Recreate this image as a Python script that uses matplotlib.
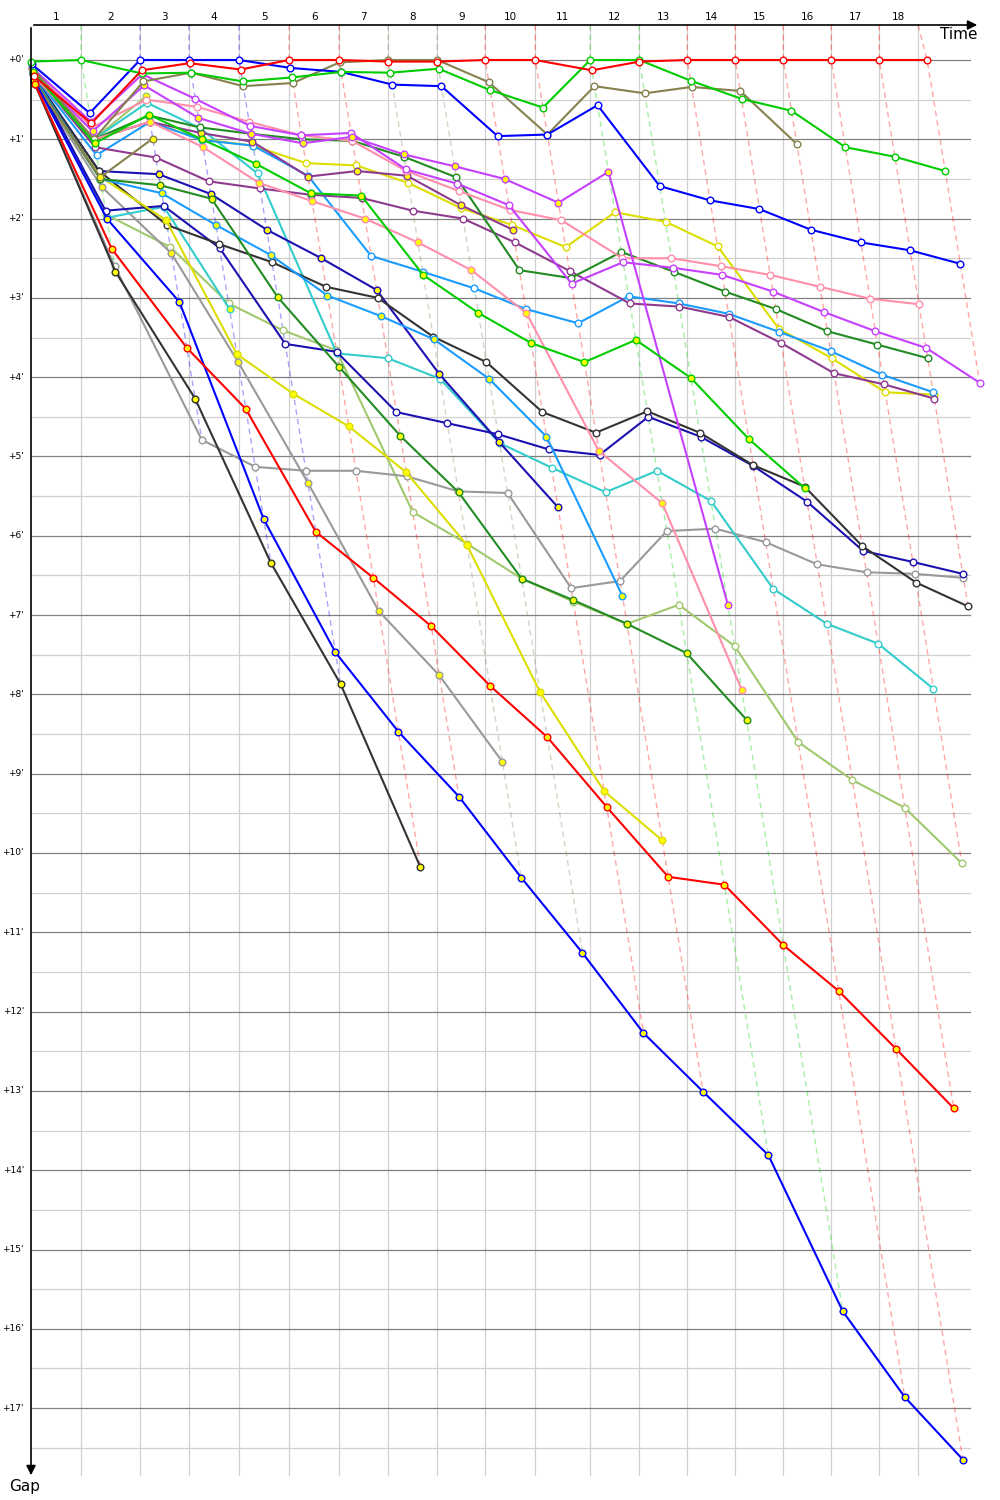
import matplotlib.pyplot as plt

# leader's cumulative race time at the end of each lap (minutes)
leader_time = [3.88, 8.45, 12.25, 16.13, 20.01, 23.89, 27.69, 31.49, 35.21, 39.09,
               43.35, 47.15, 50.87, 54.59, 58.31, 62.03, 65.75, 69.47]
# vertical grid marks, last one sits a bit before the leader's last lap
grid_time = leader_time[:-1] + [68.76]
lap_labels = [str(i) for i in range(1, 19)]
gap_ticks = list(range(0, 18))

# gap to leader (minutes) per lap, index 0 = start
red_1 = [0.20, 0.80, 0.13, 0.04, 0.12, 0, 0, 0.02, 0.02, 0, 0, 0.13, 0.02, 0, 0, 0, 0, 0, 0]
red_2 = [0.30, 2.38, 3.63, 4.40, 5.95, 6.53, 7.14, 7.89, 8.54, 9.42, 10.30, 10.40, 11.16, 11.74, 12.47, 13.22]
green_1 = [0.02, 0, 0.17, 0.16, 0.27, 0.22, 0.15, 0.16, 0.11, 0.38, 0.60, 0, 0, 0.26, 0.49, 0.64, 1.10, 1.22, 1.40]
green_2 = [0.15, 1.05, 0.69, 1.00, 1.31, 1.68, 1.71, 2.71, 3.19, 3.57, 3.81, 3.53, 4.01, 4.78, 5.40]
blue_1 = [0.05, 0.67, 0, 0, 0, 0.10, 0.15, 0.31, 0.33, 0.96, 0.94, 0.57, 1.59, 1.77, 1.88, 2.14, 2.30, 2.40, 2.57]
blue_2 = [0.25, 2.00, 3.05, 5.79, 7.47, 8.47, 9.29, 10.31, 11.26, 12.27, 13.01, 13.81, 15.78, 16.86, 17.65]
olive_1 = [0.10, 1.00, 0.27, 0.16, 0.33, 0.29, 0.03, 0, 0, 0.28, 0.94, 0.33, 0.42, 0.34, 0.39, 1.06]
olive_2 = [0.27, 1.48, 0.99]
magenta_1 = [0.10, 0.78, 0.18, 0.49, 0.83, 0.95, 0.92, 1.38, 1.56, 1.83, 2.82, 2.55, 2.62, 2.71, 2.92, 3.18, 3.42, 3.63, 4.07]
magenta_2 = [0.15, 0.90, 0.32, 0.73, 0.93, 1.05, 0.97, 1.19, 1.34, 1.50, 1.80, 1.41, 6.87]
pink_1 = [0.12, 0.85, 0.50, 0.59, 0.78, 0.95, 1.02, 1.40, 1.65, 1.89, 2.02, 2.50, 2.50, 2.60, 2.71, 2.86, 3.01, 3.08]
pink_2 = [0.20, 1.00, 0.78, 1.10, 1.55, 1.78, 2.00, 2.30, 2.65, 3.19, 4.93, 5.59, 7.94]
dkgreen_1 = [0.20, 1.00, 0.70, 0.85, 0.93, 1.00, 1.02, 1.22, 1.48, 2.65, 2.75, 2.42, 2.67, 2.92, 3.14, 3.42, 3.59, 3.76]
dkgreen_2 = [0.25, 1.50, 1.58, 1.75, 2.99, 3.87, 4.74, 5.45, 6.54, 6.81, 7.11, 7.48, 8.32]
purple_1 = [0.15, 1.10, 1.23, 1.53, 1.62, 1.70, 1.74, 1.90, 2.00, 2.30, 2.66, 3.07, 3.11, 3.24, 3.57, 3.95, 4.09, 4.27]
purple_2 = [0.18, 1.00, 0.78, 0.92, 1.03, 1.47, 1.40, 1.46, 1.83, 2.14]
ltblue_1 = [0.18, 1.20, 0.78, 1.01, 1.08, 1.46, 2.47, 2.67, 2.88, 3.14, 3.32, 2.98, 3.07, 3.20, 3.43, 3.67, 3.97, 4.19]
ltblue_2 = [0.22, 1.50, 1.68, 2.08, 2.46, 2.97, 3.23, 3.52, 4.02, 4.75, 6.76]
yellow_1 = [0.12, 1.00, 0.78, 1.00, 1.08, 1.30, 1.33, 1.55, 1.87, 2.08, 2.36, 1.92, 2.04, 2.35, 3.39, 3.76, 4.19, 4.22]
yellow_2 = [0.28, 1.47, 2.02, 3.71, 4.21, 4.62, 5.20, 6.12, 7.97, 9.22, 9.84]
black_1 = [0.22, 1.40, 2.08, 2.32, 2.55, 2.86, 3.00, 3.49, 3.81, 4.44, 4.70, 4.43, 4.70, 5.11, 5.38, 6.13, 6.59, 6.89]
black_2 = [0.30, 2.67, 4.27, 6.34, 7.87, 10.18]
navy_1 = [0.20, 1.90, 1.84, 2.37, 3.58, 3.68, 4.44, 4.58, 4.72, 4.91, 4.98, 4.50, 4.75, 5.12, 5.57, 6.19, 6.33, 6.48]
navy_2 = [0.20, 1.40, 1.44, 1.69, 2.14, 2.50, 2.90, 3.96, 4.82, 5.64]
cyan_1 = [0.14, 1.00, 0.54, 0.86, 1.43, 3.70, 3.76, 4.02, 4.83, 5.14, 5.45, 5.18, 5.56, 6.67, 7.11, 7.36, 7.93]
cyan_2 = [0.24, 1.99, 1.85, 3.14]
gray_1 = [0.30, 2.60, 4.79, 5.13, 5.18, 5.18, 5.25, 5.44, 5.46, 6.66, 6.57, 5.94, 5.91, 6.08, 6.36, 6.46, 6.48, 6.53]
gray_2 = [0.28, 1.60, 2.44, 3.81, 5.33, 6.95, 7.76, 8.85]
ltgreen_1 = [0.16, 1.95, 2.36, 3.07, 3.41, 3.66, 5.70, 6.10, 6.54, 6.83, 7.11, 6.87, 7.39, 8.60, 9.08, 9.43, 10.13]
ltgreen_2 = [0.15, 1.00, 0.46]

team_colors = {
    'red': '#ff0000', 'green': '#00cc00', 'blue': '#0000ff', 'olive': '#87814f',
    'magenta': '#c640ff', 'pink': '#ff8fab', 'dkgreen': '#228b22', 'purple': '#8e3a8e',
    'ltblue': '#1a9cff', 'yellow': '#dddd00', 'black': '#333333', 'navy': '#1c10b0',
    'cyan': '#33cccc', 'gray': '#999999', 'ltgreen': '#a2c86e',
}

# (gaps, team, second car -> yellow markers)
cars = [
    (ltgreen_1, 'ltgreen', False), (ltgreen_2, 'ltgreen', True),
    (gray_1, 'gray', False), (gray_2, 'gray', True),
    (cyan_1, 'cyan', False), (cyan_2, 'cyan', True),
    (navy_1, 'navy', False), (navy_2, 'navy', True),
    (black_1, 'black', False), (black_2, 'black', True),
    (yellow_1, 'yellow', False), (yellow_2, 'yellow', True),
    (ltblue_1, 'ltblue', False), (ltblue_2, 'ltblue', True),
    (purple_1, 'purple', False), (purple_2, 'purple', True),
    (dkgreen_1, 'dkgreen', False), (dkgreen_2, 'dkgreen', True),
    (pink_1, 'pink', False), (pink_2, 'pink', True),
    (magenta_1, 'magenta', False), (magenta_2, 'magenta', True),
    (olive_1, 'olive', False), (olive_2, 'olive', True),
    (blue_1, 'blue', False), (blue_2, 'blue', True),
    (green_1, 'green', False), (green_2, 'green', True),
    (red_1, 'red', False), (red_2, 'red', True),
]

# pixel scale: 12.9 px per minute of race time, 79.3 px per minute of gap
XS, YS = 12.9, 79.3
fig = plt.figure(figsize=(10, 15), dpi=100)
ax = fig.add_axes([0, 0, 1, 1])
ax.set_xlim(-31 / XS, 969 / XS)
ax.set_ylim(1440 / YS, -60 / YS)
ax.axis('off')

top = -35 / YS
x_end = 939 / XS
y_end = 1415 / YS

# grid
for g in range(0, 18):
    ax.plot([0, x_end], [g + 0.5, g + 0.5], color='#d0d0d0', lw=0.9, zorder=1)
    ax.plot([0, x_end], [g, g], color='#808080', lw=0.9, zorder=1.2)
for t in grid_time:
    ax.plot([t, t], [top, y_end], color='#d0d0d0', lw=0.9, zorder=1.1)

# position of every car at every lap
def xpos(gaps):
    return [gaps[0]] + [leader_time[k - 1] + gaps[k] for k in range(1, len(gaps))]

# dashed lap lines, coloured after the lap leader
for k in range(1, len(leader_time) + 1):
    on_lap = [(c[0][k], c[1]) for c in cars if len(c[0]) > k]
    lead = min(on_lap, key=lambda p: p[0])
    gmax = max(p[0] for p in on_lap)
    ax.plot([grid_time[k - 1], leader_time[k - 1], leader_time[k - 1] + gmax],
            [top, 0, gmax], color=team_colors[lead[1]], alpha=0.35, lw=1,
            ls=(0, (4, 3)), zorder=2)

# cars
for gaps, team, second in cars:
    col = team_colors[team]
    ax.plot(xpos(gaps), gaps, color=col, lw=1.5, marker='o', ms=4.8, mew=1.0,
            mec=col, mfc='#ffff00' if second else 'white', zorder=3)

# axes with arrows
ax.annotate('', xy=(949 / XS, top), xytext=(0, top),
            arrowprops=dict(arrowstyle='-|>', color='black', lw=1.2, mutation_scale=14))
ax.annotate('', xy=(0, 1418 / YS), xytext=(0, top),
            arrowprops=dict(arrowstyle='-|>', color='black', lw=1.2, mutation_scale=14))
ax.text(946 / XS, -25 / YS, 'Time', ha='right', va='center', fontsize=11)
ax.text(-6 / XS, 1426 / YS, 'Gap', ha='center', va='center', fontsize=11)

# lap numbers above the time axis
prev = 0
for t, lab in zip(grid_time, lap_labels):
    ax.text((prev + t) / 2, -43 / YS, lab, ha='center', va='center', fontsize=7.5)
    prev = t

# gap labels
for g in gap_ticks:
    ax.text(-7 / XS, g, "+%d'" % g, ha='right', va='center', fontsize=6.5)

fig.savefig('out.png', dpi=100)
